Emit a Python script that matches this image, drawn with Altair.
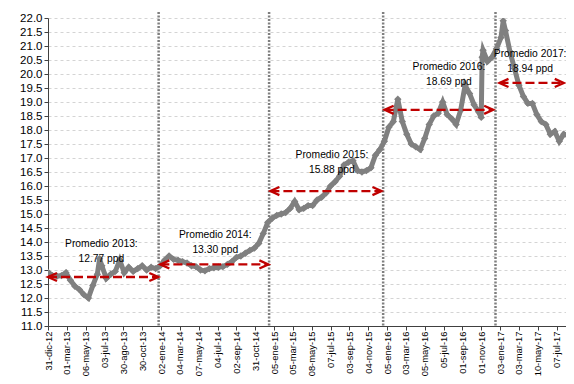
import altair as alt
import pandas as pd

# ---- data (x = trading-day index, y = pesos per dollar) ----
days = [0, 10, 20, 30, 40, 50, 60, 70, 80, 90, 100, 110, 115, 120, 130, 140, 150, 160, 170, 180,
        190, 200, 210, 220, 230, 240, 250, 260, 270, 280, 290, 300, 310, 320, 330, 340, 350, 360,
        370, 380, 390, 400, 410, 420, 430, 440, 450, 460, 470, 480, 490, 500, 510, 520, 530, 540,
        550, 560, 570, 580, 590, 600, 610, 620, 630, 640, 650, 660, 670, 680, 690, 700, 710, 720,
        730, 740, 750, 760, 770, 780, 790, 800, 810, 820, 830, 840, 850, 860, 870, 880, 890, 900,
        910, 920, 930, 940, 950, 960, 966, 968, 970, 980, 990, 1000, 1010, 1015, 1020, 1030, 1040,
        1050, 1060, 1070, 1080, 1090, 1100, 1110, 1120, 1130, 1140, 1150, 1160]
values = [12.92, 12.80, 12.78, 12.80, 12.90, 12.63, 12.42, 12.30, 12.12, 12.00, 12.45, 12.85, 13.40,
          13.15, 12.70, 12.85, 12.95, 13.35, 12.90, 13.10, 12.95, 13.05, 13.15, 13.00, 13.10, 13.05,
          13.15, 13.35, 13.50, 13.38, 13.35, 13.30, 13.25, 13.15, 13.12, 13.00, 12.97, 13.05, 13.08,
          13.10, 13.12, 13.20, 13.30, 13.45, 13.50, 13.60, 13.70, 13.78, 13.95, 14.30, 14.70, 14.85,
          14.95, 15.00, 15.05, 15.20, 15.45, 15.15, 15.20, 15.30, 15.30, 15.50, 15.60, 15.75, 16.00,
          16.15, 16.35, 16.75, 16.85, 16.90, 16.55, 16.50, 16.55, 16.65, 17.10, 17.30, 17.60, 18.10,
          18.30, 19.10, 18.30, 17.85, 17.50, 17.40, 17.30, 17.70, 18.20, 18.50, 18.60, 19.00, 18.55,
          18.40, 18.20, 18.70, 19.60, 19.30, 18.90, 18.65, 18.45, 20.60, 20.85, 20.45, 20.60, 20.90,
          21.30, 21.90, 21.55, 20.80, 20.20, 19.60, 19.20, 18.95, 18.95, 18.55, 18.30, 18.20, 17.85,
          17.95, 17.60, 17.85, 17.80]

tick_labels = ["31-dic-12", "01-mar-13", "06-may-13", "03-jul-13", "30-ago-13", "30-oct-13",
               "02-ene-14", "04-mar-14", "07-may-14", "04-jul-14", "02-sep-14", "31-oct-14",
               "05-ene-15", "05-mar-15", "08-may-15", "07-jul-15", "03-sep-15", "04-nov-15",
               "05-ene-16", "03-mar-16", "05-may-16", "05-jul-16", "01-sep-16", "01-nov-16",
               "03-ene-17", "03-mar-17", "10-may-17", "07-jul-17"]
tick_step = 42
y_ticks = [11.0, 11.5, 12.0, 12.5, 13.0, 13.5, 14.0, 14.5, 15.0, 15.5, 16.0, 16.5, 17.0,
           17.5, 18.0, 18.5, 19.0, 19.5, 20.0, 20.5, 21.0, 21.5, 22.0]

year_bounds = [246.7, 493.0, 747.3, 997.8]

avg_labels = ["Promedio 2013:\n12.77 ppd", "Promedio 2014:\n13.30 ppd", "Promedio 2015:\n15.88 ppd",
              "Promedio 2016:\n18.69 ppd", "Promedio 2017:\n18.94 ppd"]
avg_text_x = [119, 373, 633, 894, 1075]
avg_text_y = [13.93, 14.26, 17.12, 20.26, 20.73]
arrow_start = [0, 250.5, 495.9, 750.6, 1006.7]
arrow_end = [246, 491.4, 743.5, 992.6, 1150]
arrow_y = [12.75, 13.20, 15.82, 18.72, 19.68]

# ---- chart ----
X_MAX = 1155
FONT = "Liberation Sans"
GRAY = "#808080"
RED = "#C00000"

series = pd.DataFrame({"d": days, "v": values})
bounds = pd.DataFrame({"d": year_bounds})
avgs = pd.DataFrame({"x": avg_text_x, "y": avg_text_y, "t": avg_labels,
                     "x1": arrow_start, "x2": arrow_end, "ay": arrow_y})

x_scale = alt.Scale(domain=[0, X_MAX], nice=False, zero=False)
y_scale = alt.Scale(domain=[11, 22], nice=False, zero=False)

label_arr = "[" + ",".join("'" + l + "'" for l in tick_labels) + "]"
x_axis = alt.Axis(values=[i * tick_step for i in range(len(tick_labels))],
                  labelExpr=label_arr + "[round(datum.value/" + str(tick_step) + ")]",
                  labelAngle=-90, grid=False, title=None, labelFontSize=9.4, labelFont=FONT,
                  labelColor="black", tickSize=4, labelPadding=1, domainColor="#404040",
                  tickColor="#404040", labelOverlap=False, labelFlush=False)
y_axis = alt.Axis(values=y_ticks, format=".1f", title=None, labelFontSize=11.5, labelFont=FONT,
                  labelColor="black", tickSize=4, labelPadding=2, domainColor="#404040",
                  tickColor="#404040", grid=True, gridDash=[3, 3], gridColor="#d4d4d4",
                  labelOverlap=False)

X = lambda f: alt.X(f, scale=x_scale, axis=x_axis)
Y = lambda f: alt.Y(f, scale=y_scale, axis=y_axis)

line = alt.Chart(series).mark_line(color=GRAY, strokeWidth=5, clip=True).encode(
    x=X("d:Q"), y=Y("v:Q"),
)
pts = alt.Chart(series).mark_point(shape="diamond", filled=True, color=GRAY, size=55,
                                   opacity=1, clip=True).encode(
    x=X("d:Q"), y=Y("v:Q"),
)
vlines = alt.Chart(bounds).mark_rule(color="#7f7f7f", strokeWidth=2.5, strokeDash=[2, 1.5]).encode(
    x=X("d:Q"),
    y=alt.value(-6),
    y2=alt.value(308),
)
arrows = alt.Chart(avgs).mark_rule(color=RED, strokeWidth=2.3, strokeDash=[9, 4]).encode(
    x=X("x1:Q"), x2="x2:Q", y=Y("ay:Q"),
)
head_l = alt.Chart(avgs).mark_point(shape="M2,-0.9L0,0L2,0.9", filled=False, color=RED,
                                    strokeWidth=2.3, size=81, opacity=1).encode(
    x=X("x1:Q"), y=Y("ay:Q"),
)
head_r = alt.Chart(avgs).mark_point(shape="M-2,-0.9L0,0L-2,0.9", filled=False, color=RED,
                                    strokeWidth=2.3, size=81, opacity=1).encode(
    x=X("x2:Q"), y=Y("ay:Q"),
)
texts = alt.Chart(avgs).mark_text(lineBreak="\n", font=FONT, fontSize=10.3, lineHeight=15.5,
                                  align="center", baseline="middle", color="black").encode(
    x=X("x:Q"), y=Y("y:Q"), text="t:N",
)

chart = alt.layer(line, vlines, pts, arrows, head_l, head_r, texts).properties(
    width=518, height=308,
    autosize=alt.AutoSizeParams(type="none"),
    padding={"left": 40, "top": 10, "right": 0, "bottom": 50},
    background="white",
).configure_view(stroke=None)

chart.save("out.html", embed_options={"renderer": "svg", "actions": False})
